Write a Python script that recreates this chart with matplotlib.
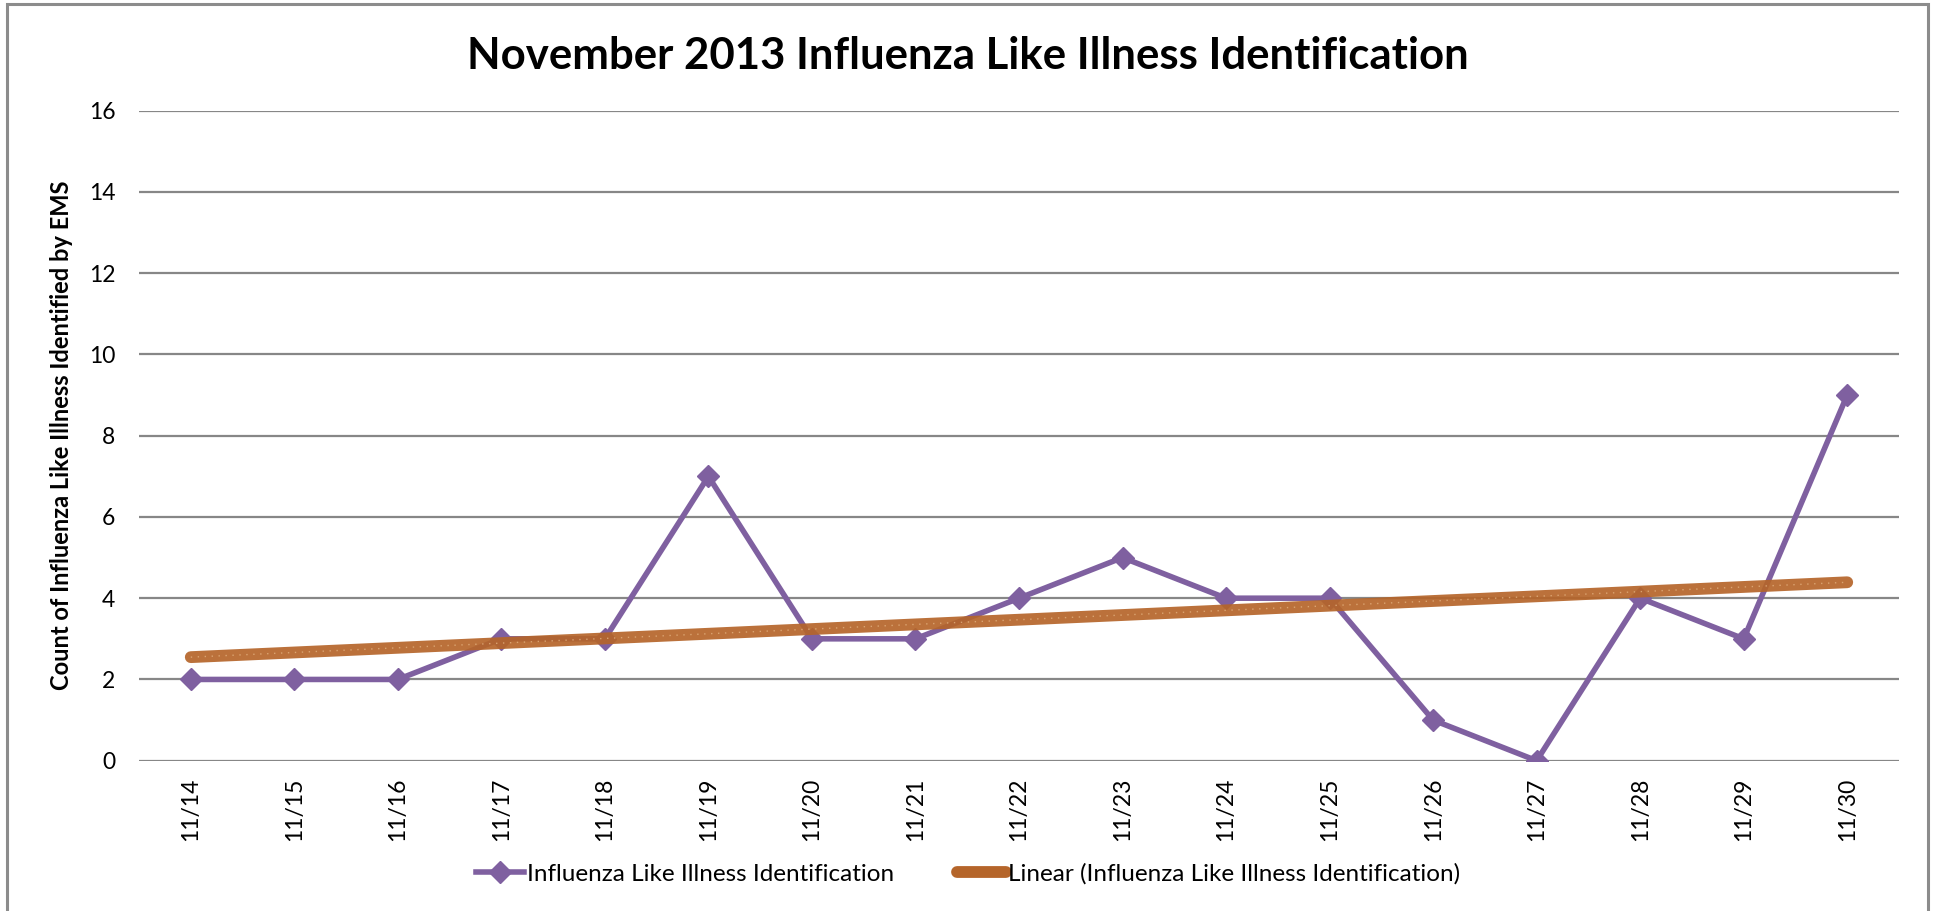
import matplotlib
matplotlib.use("Agg")
import matplotlib.pyplot as plt
from matplotlib.patches import Rectangle
from matplotlib.lines import Line2D
import numpy as np

plt.rcParams['font.family'] = ['Lato', 'DejaVu Sans']

# data
dates = ['11/14', '11/15', '11/16', '11/17', '11/18', '11/19', '11/20', '11/21', '11/22',
         '11/23', '11/24', '11/25', '11/26', '11/27', '11/28', '11/29', '11/30']
ili_counts = [2, 2, 2, 3, 3, 7, 3, 3, 4, 5, 4, 4, 1, 0, 4, 3, 9]
yticks = [0, 2, 4, 6, 8, 10, 12, 14, 16]

purple = '#7F60A0'
brown = '#B5652A'

fig = plt.figure(figsize=(19.36, 9.11), dpi=100)
fig.patch.set_facecolor('white')

# outer chart border
fig.add_artist(Rectangle((7 / 1936, -0.01), (1928 - 7) / 1936, 1.01 - 4 / 911,
                         transform=fig.transFigure, fill=False,
                         edgecolor='#8c8c8c', linewidth=2.2))

ax = fig.add_axes([139 / 1936, 1 - 760.7 / 911, (1899 - 139) / 1936, (760.7 - 110.7) / 911])

x = np.arange(len(dates))
ax.plot(x, ili_counts, color=purple, lw=4, marker='D', markersize=11,
        zorder=3, label='Influenza Like Illness Identification')

# linear trendline
slope, intercept = np.polyfit(x, ili_counts, 1)
trend = slope * x + intercept
ax.plot(x, trend, color=brown, lw=8.5, alpha=0.92, solid_capstyle='round', zorder=4)
ax.plot(x, trend, color='#E2B07E', lw=1.0, ls=(0, (1, 4)), alpha=0.8, zorder=5)

ax.set_xlim(-0.5, len(dates) - 0.5)
ax.set_ylim(0, 16)
ax.set_yticks(yticks)
ax.set_xticks(x)
ax.set_xticklabels(dates, rotation=90, fontsize=16.5)
ax.tick_params(axis='y', labelsize=16.5, length=0, pad=17)
ax.tick_params(axis='x', length=0, pad=12)
ax.grid(axis='y', color='#878787', lw=1.6)
ax.set_axisbelow(True)
for s in ax.spines.values():
    s.set_visible(False)

fig.text(62 / 1936, 1 - 435 / 911, 'Count of Influenza Like Illness Identified by EMS',
         rotation=90, ha='center', va='center', fontsize=17, fontweight='bold')

fig.text(0.5, 1 - 56 / 911, 'November 2013 Influenza Like Illness Identification',
         ha='center', va='center', fontsize=31.5, fontweight='bold')

# legend
h1 = Line2D([], [], color=purple, lw=4, marker='D', markersize=11)
h2 = Line2D([], [], color=brown, lw=8.5, solid_capstyle='round')
fig.legend([h1, h2], ['Influenza Like Illness Identification',
                      'Linear (Influenza Like Illness Identification)'],
           loc='center', bbox_to_anchor=(0.5, 1 - 874 / 911), ncol=2, frameon=False,
           fontsize=17.5, handlelength=2.0, handletextpad=0.1, columnspacing=2.6)

fig.savefig('out.png', dpi=100, facecolor='white')
